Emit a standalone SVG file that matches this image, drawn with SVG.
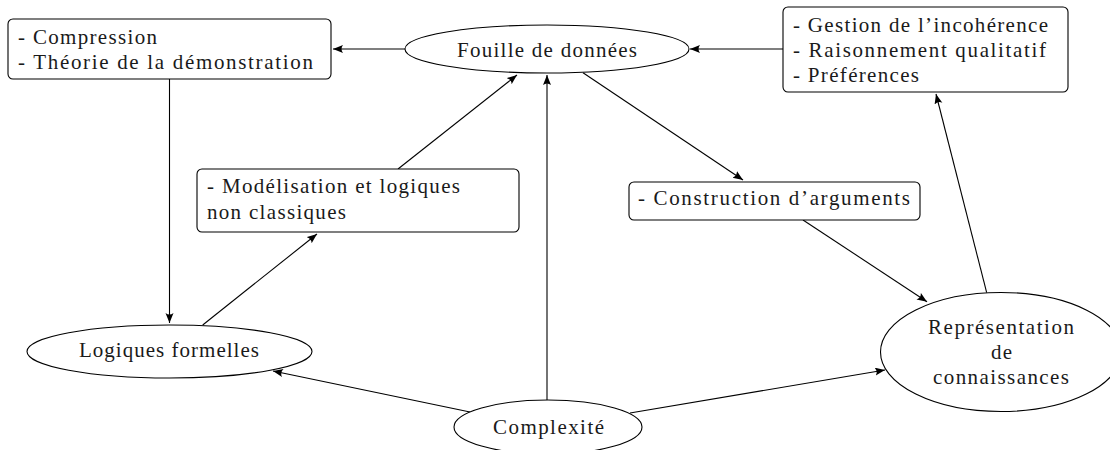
<svg xmlns="http://www.w3.org/2000/svg" width="1110" height="450" viewBox="0 0 1110 450" font-family="'Liberation Serif', 'DejaVu Serif', serif">
<style>
.box{fill:#fff;stroke:#000;stroke-width:1.1}
.ell{fill:#fff;stroke:#000;stroke-width:1.1}
.t{font-size:21px;fill:#1a1a1a}
.e{stroke:#000;stroke-width:1.1;fill:none;marker-end:url(#ah)}
</style>
<defs>
<marker id="ah" markerUnits="userSpaceOnUse" markerWidth="12" markerHeight="10" refX="10" refY="4" orient="auto">
<path d="M0,0 Q3,4 0,8 L10,4 Z" fill="#000"/>
</marker>
</defs>
<rect width="1110" height="450" fill="#fff"/>
<g id="connectors">
<line class="e" x1="405" y1="49" x2="333" y2="49"/>
<line class="e" x1="783" y1="49" x2="690" y2="49"/>
<line class="e" x1="169.5" y1="79" x2="169.5" y2="323"/>
<line class="e" x1="202.7" y1="325" x2="317" y2="234"/>
<line class="e" x1="398" y1="169" x2="517" y2="75"/>
<line class="e" x1="547" y1="400" x2="547" y2="75"/>
<line class="e" x1="470" y1="412" x2="273" y2="371"/>
<line class="e" x1="630" y1="413" x2="885" y2="370"/>
<line class="e" x1="583" y1="72.7" x2="743" y2="180"/>
<line class="e" x1="803" y1="220" x2="927" y2="301.7"/>
<line class="e" x1="986.7" y1="292.7" x2="936" y2="94"/>
</g>
<g id="n-compression">
<rect class="box" x="8" y="19" width="323" height="60" rx="5"/>
<text class="t" x="18" y="44" textLength="139" lengthAdjust="spacing">- Compression</text>
<text class="t" x="18" y="69" textLength="295" lengthAdjust="spacing">- Théorie de la démonstration</text>
</g>
<g id="n-fouille">
<ellipse class="ell" cx="547" cy="49" rx="142" ry="24"/>
<text class="t" x="457" y="56.5" textLength="180" lengthAdjust="spacing">Fouille de données</text>
</g>
<g id="n-gestion">
<rect class="box" x="783" y="7" width="285" height="85" rx="5"/>
<text class="t" x="793" y="32" textLength="255" lengthAdjust="spacing">- Gestion de l’incohérence</text>
<text class="t" x="793" y="57" textLength="253" lengthAdjust="spacing">- Raisonnement qualitatif</text>
<text class="t" x="793" y="82" textLength="126" lengthAdjust="spacing">- Préférences</text>
</g>
<g id="n-modelisation">
<rect class="box" x="197" y="169" width="322" height="63" rx="5"/>
<text class="t" x="207" y="193" textLength="253" lengthAdjust="spacing">- Modélisation et logiques</text>
<text class="t" x="207" y="219" textLength="139" lengthAdjust="spacing">non classiques</text>
</g>
<g id="n-construction">
<rect class="box" x="629" y="182" width="291" height="38" rx="5"/>
<text class="t" x="638" y="205" textLength="272" lengthAdjust="spacing">- Construction d’arguments</text>
</g>
<g id="n-logiques">
<ellipse class="ell" cx="169.5" cy="351.5" rx="142.5" ry="26.5"/>
<text class="t" x="79" y="357" textLength="180" lengthAdjust="spacing">Logiques formelles</text>
</g>
<g id="n-representation">
<ellipse class="ell" cx="1001" cy="352" rx="120.5" ry="59.5"/>
<text class="t" x="928" y="334" textLength="146" lengthAdjust="spacing">Représentation</text>
<text class="t" x="991" y="359" textLength="21" lengthAdjust="spacing">de</text>
<text class="t" x="933" y="384" textLength="136" lengthAdjust="spacing">connaissances</text>
</g>
<g id="n-complexite">
<ellipse class="ell" cx="548" cy="427" rx="94" ry="27"/>
<text class="t" x="493" y="434" textLength="111" lengthAdjust="spacing">Complexité</text>
</g>
</svg>
